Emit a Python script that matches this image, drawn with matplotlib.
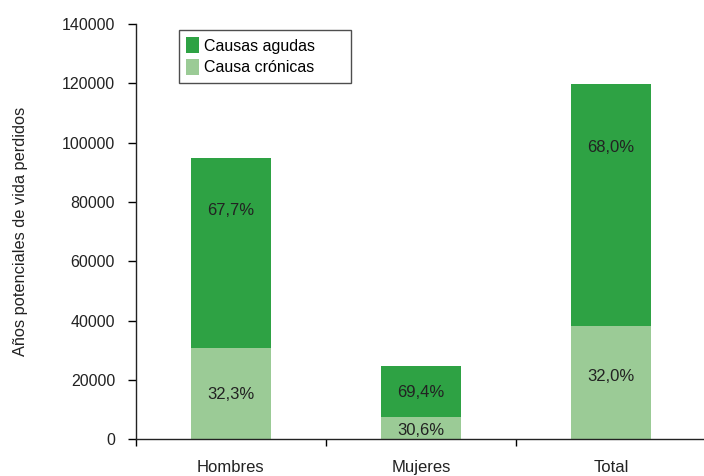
import matplotlib
matplotlib.use("Agg")
import matplotlib.pyplot as plt
import numpy as np

plt.rcParams['font.family'] = ['Liberation Sans', 'DejaVu Sans']

# Años potenciales de vida perdidos, por sexo
categorias = ['Hombres', 'Mujeres', 'Total']
totales = [94900, 24800, 119700]
pct_agudas = [67.7, 69.4, 68.0]
pct_cronicas = [32.3, 30.6, 32.0]
yticks = [0, 20000, 40000, 60000, 80000, 100000, 120000, 140000]

color_agudas = '#2ea244'
color_cronicas = '#9bcb96'
color_texto = '#222222'

cronicas = [t * p / 100 for t, p in zip(totales, pct_cronicas)]
agudas = [t * p / 100 for t, p in zip(totales, pct_agudas)]

fig = plt.figure(figsize=(7.04, 4.76), dpi=100)
ax = fig.add_axes([0.193, 0.0771, 0.807, 0.8725])

x = np.arange(len(categorias))
ancho = 0.42
b1 = ax.bar(x, cronicas, ancho, color=color_cronicas, label='Causa crónicas')
b2 = ax.bar(x, agudas, ancho, bottom=cronicas, color=color_agudas,
            label='Causas agudas')

# altura relativa de cada etiqueta dentro de su tramo
pos_agudas = [0.724, 0.475, 0.738]
pos_cronicas = [0.49, 0.41, 0.555]
for i in range(len(categorias)):
    ya = cronicas[i] + agudas[i] * pos_agudas[i]
    yc = cronicas[i] * pos_cronicas[i]
    ax.text(x[i], ya, f'{pct_agudas[i]:.1f}%'.replace('.', ','),
            ha='center', va='center', fontsize=12, color=color_texto)
    ax.text(x[i], yc, f'{pct_cronicas[i]:.1f}%'.replace('.', ','),
            ha='center', va='center', fontsize=12, color=color_texto)

ax.set_xlim(-0.5, 2.49)
ax.set_ylim(0, 140000)
ax.set_yticks(yticks)
ax.set_yticklabels([str(v) for v in yticks])
ax.set_xticks(x)
ax.set_xticklabels(categorias)
ax.set_xticks([-0.5, 0.5, 1.5], minor=True)
ax.tick_params(axis='x', which='major', length=0, pad=15, labelsize=12,
               colors=color_texto)
ax.tick_params(axis='x', which='minor', length=5, direction='out', width=1)
ax.tick_params(axis='y', length=6, width=1, pad=9, labelsize=11.5,
               labelcolor=color_texto)

for s in ['top', 'right']:
    ax.spines[s].set_visible(False)
for s in ['left', 'bottom']:
    ax.spines[s].set_linewidth(1)
    ax.spines[s].set_color(color_texto)

ax.set_ylabel('Años potenciales de vida perdidos', fontsize=11.8,
              color=color_texto, labelpad=24)

leg = ax.legend(handles=[b2, b1], loc='upper left', mode='expand',
                bbox_to_anchor=(0.0757, 0.5, 0.303, 0.4855), fontsize=11.5,
                frameon=True, fancybox=False, handlelength=0.8,
                handleheight=1.15, handletextpad=0.3, borderpad=0.45,
                labelspacing=0.35, borderaxespad=0)
leg.get_frame().set_edgecolor(color_texto)
leg.get_frame().set_linewidth(1)

fig.savefig('out.png', dpi=100)
